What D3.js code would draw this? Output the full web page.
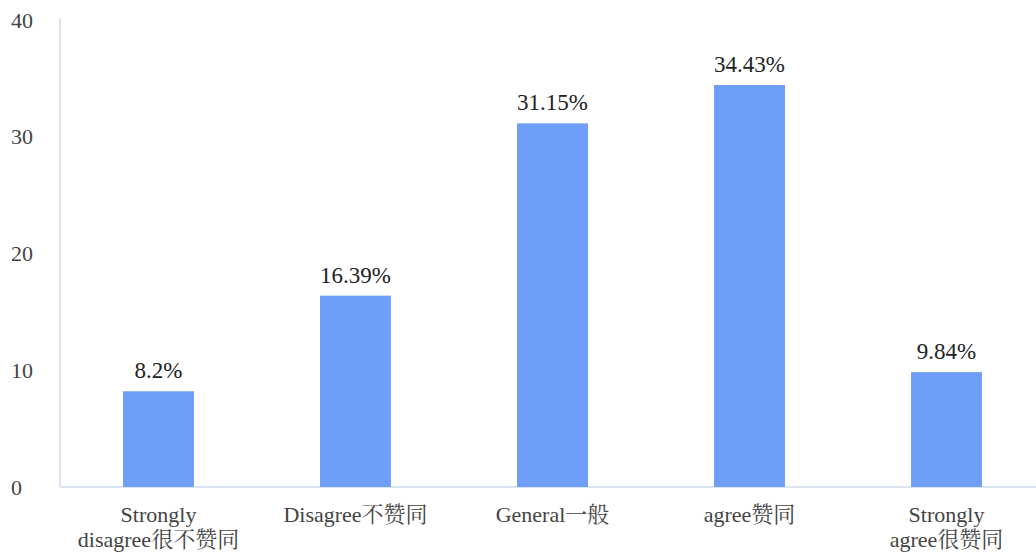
<!DOCTYPE html>
<html>
<head>
<meta charset="utf-8">
<script src="https://cdn.jsdelivr.net/npm/d3@7"></script>
<style>
  body { margin: 0; background: #fff; }
</style>
</head>
<body>
<svg width="1036" height="558"></svg>
<script>
const categories = [
  ['Strongly', 'disagree很不赞同'],
  ['Disagree不赞同'],
  ['General一般'],
  ['agree赞同'],
  ['Strongly', 'agree很赞同']
];
const values = [8.2, 16.39, 31.15, 34.43, 9.84];
const valueLabels = ['8.2%', '16.39%', '31.15%', '34.43%', '9.84%'];
const yTicks = [0, 10, 20, 30, 40];

const FONT = "'Liberation Serif', 'Noto Serif CJK SC', 'Noto Sans CJK SC', serif";

const svg = d3.select('svg');
const margin = { top: 20, right: 0, bottom: 71, left: 60 };
const width = 1036 - margin.left - margin.right;
const height = 558 - margin.top - margin.bottom;

const g = svg.append('g').attr('transform', `translate(${margin.left},${margin.top})`);

const x = d3.scaleBand()
  .domain(d3.range(values.length))
  .range([0, 985])
  .paddingInner(0.64)
  .paddingOuter(0.32);
const y = d3.scaleLinear().domain([0, 40]).range([height, 0]);

// y axis line and tick labels
g.append('line')
  .attr('x1', 0).attr('x2', 0)
  .attr('y1', y(40) - 2).attr('y2', height)
  .attr('stroke', '#cfdcee').attr('stroke-width', 1.5);
g.selectAll('.ytick')
  .data(yTicks)
  .join('text')
  .attr('class', 'ytick')
  .attr('x', -49)
  .attr('y', d => y(d))
  .attr('dy', '0.35em')
  .style('font-family', FONT)
  .style('font-size', '22px')
  .attr('fill', '#444')
  .text(d => d);

// x axis
g.append('line')
  .attr('x1', 0).attr('x2', width)
  .attr('y1', height).attr('y2', height)
  .attr('stroke', '#cfdcee').attr('stroke-width', 1.5);

// bars
g.selectAll('rect')
  .data(values)
  .join('rect')
  .attr('x', (d, i) => x(i))
  .attr('y', d => y(d))
  .attr('width', x.bandwidth())
  .attr('height', d => height - y(d))
  .attr('fill', '#6f9ef8');

// value labels
g.selectAll('.val')
  .data(values)
  .join('text')
  .attr('class', 'val')
  .attr('x', (d, i) => x(i) + x.bandwidth() / 2)
  .attr('y', d => y(d) - 13)
  .attr('text-anchor', 'middle')
  .style('font-family', FONT)
  .style('font-size', '23px')
  .attr('fill', '#222')
  .text((d, i) => valueLabels[i]);

// category labels
categories.forEach((lines, i) => {
  const t = g.append('text')
    .attr('x', x(i) + x.bandwidth() / 2)
    .attr('y', height + 35)
    .attr('text-anchor', 'middle')
    .style('font-family', FONT)
    .style('font-size', '22px')
    .attr('fill', '#444');
  lines.forEach((ln, j) => {
    t.append('tspan')
      .attr('x', x(i) + x.bandwidth() / 2)
      .attr('dy', j === 0 ? 0 : 25)
      .text(ln);
  });
});
</script>
</body>
</html>
